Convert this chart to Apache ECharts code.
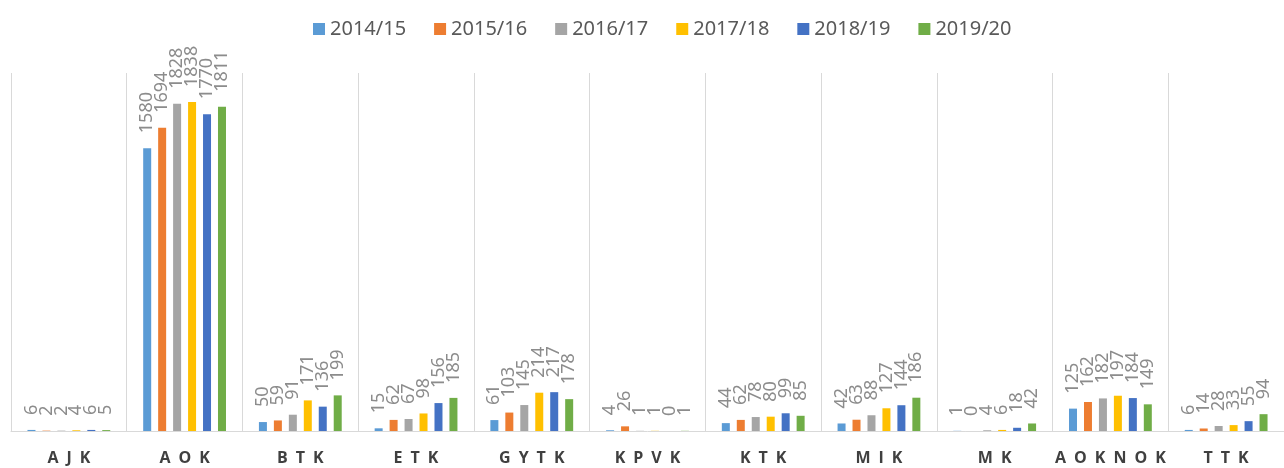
<!DOCTYPE html>
<html>
<head>
<meta charset="utf-8">
<script src="https://cdn.jsdelivr.net/npm/echarts@6/dist/echarts.min.js"></script>
<style>
  html, body { margin: 0; padding: 0; background: #fff; }
  #chart { width: 1284px; height: 468px; }
</style>
</head>
<body>
<div id="chart"></div>
<script>
  // karok (kategoriak) es tanevek
  const categories = ['AJK', 'AOK', 'BTK', 'ETK', 'GYTK', 'KPVK', 'KTK', 'MIK', 'MK', 'AOK NOK', 'TTK']
  const years = ['2014/15', '2015/16', '2016/17', '2017/18', '2018/19', '2019/20']

  const y2014 = [6, 1580, 50, 15, 61, 4, 44, 42, 1, 125, 6]
  const y2015 = [2, 1694, 59, 62, 103, 26, 62, 63, 0, 162, 14]
  const y2016 = [2, 1828, 91, 67, 145, 1, 78, 88, 4, 182, 28]
  const y2017 = [4, 1838, 171, 98, 214, 1, 80, 127, 6, 197, 33]
  const y2018 = [6, 1770, 136, 156, 217, 0, 99, 144, 18, 184, 55]
  const y2019 = [5, 1811, 199, 185, 178, 1, 85, 186, 42, 149, 94]

  const seriesData = [y2014, y2015, y2016, y2017, y2018, y2019]
  const colors = ['#5B9BD5', '#ED7D31', '#A5A5A5', '#FFC000', '#4472C4', '#70AD47']

  const chart = echarts.init(document.getElementById('chart'))

  const option = {
    color: colors,
    animation: false,
    legend: {
      top: 14,
      left: 308,
      itemWidth: 12,
      itemHeight: 12,
      itemGap: 28,
      icon: 'rect',
      textStyle: {
        fontFamily: 'Noto Sans',
        fontSize: 20,
        color: '#595959'
      },
      data: years
    },
    grid: {
      left: 11,
      right: -11,
      top: 73,
      bottom: 37
    },
    xAxis: {
      type: 'category',
      data: categories,
      axisTick: { show: false, interval: 0 },
      axisLine: { lineStyle: { color: '#d9d9d9', width: 1 } },
      splitLine: { show: true, interval: 0, lineStyle: { color: '#d9d9d9', width: 1 } },
      axisLabel: {
        interval: 0,
        margin: 19,
        fontFamily: 'Open Sans',
        fontWeight: 'bold',
        fontSize: 16,
        color: '#404040',
        formatter: function (v) {
          // ritkitott betuk, a szokozt nem duplazzuk
          return v.replace(/ /g, '').split('').join('\u2002')
        }
      }
    },
    yAxis: {
      type: 'value',
      min: 0,
      max: 2000,
      show: false,
      splitLine: { show: false }
    },
    series: years.map(function (name, i) {
      return {
        name: name,
        type: 'bar',
        barWidth: 8,
        barGap: '87%',
        data: seriesData[i],
        label: {
          show: true,
          position: 'top',
          rotate: 90,
          align: 'left',
          verticalAlign: 'middle',
          distance: 15,
          fontFamily: 'Noto Sans',
          fontSize: 18,
          color: '#8c8c8c'
        }
      }
    })
  }

  chart.setOption(option)
</script>
</body>
</html>
